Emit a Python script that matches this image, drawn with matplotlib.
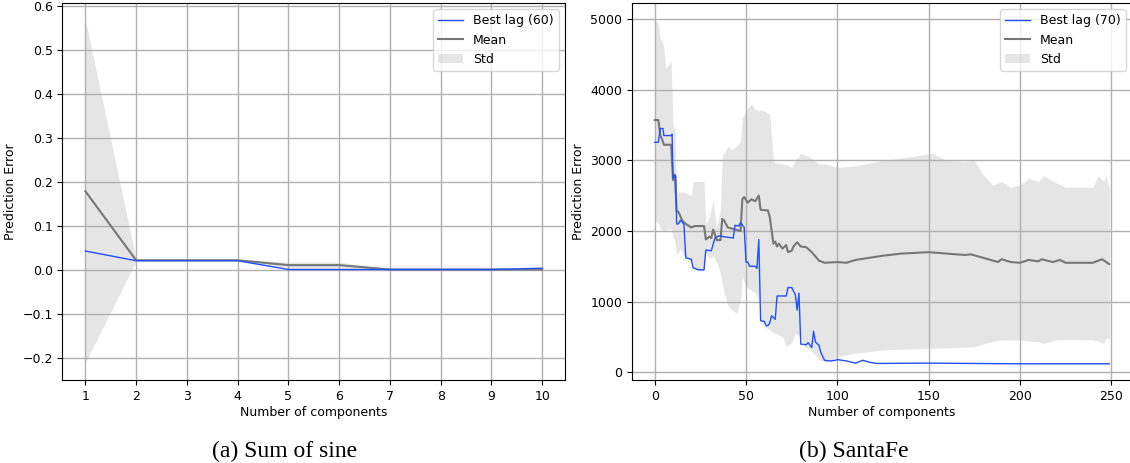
import matplotlib
matplotlib.use('Agg')
import matplotlib.pyplot as plt
from matplotlib.patches import Patch

# ---------------- (a) Sum of sine ----------------
sine_components = [1, 2, 3, 4, 5, 6, 7, 8, 9, 10]
sine_best = [0.044, 0.022, 0.022, 0.022, 0.002, 0.002, 0.002, 0.002, 0.002, 0.005]
sine_mean = [0.180, 0.023, 0.023, 0.023, 0.012, 0.012, 0.002, 0.002, 0.002, 0.002]
sine_std_upper = [0.570, 0.025, 0.025, 0.025, 0.019, 0.019, 0.003, 0.003, 0.003, 0.003]
sine_std_lower = [-0.210, 0.021, 0.021, 0.021, 0.005, 0.005, 0.001, 0.001, 0.001, 0.001]

# ---------------- (b) SantaFe ----------------
santafe_best_x = [0, 2, 3, 4.5, 5, 9, 9.5, 10, 11, 11.5, 12, 13, 14, 16, 17, 20, 21, 24, 27, 28,
                  31, 33, 35, 43, 44, 46, 47, 49, 50, 51, 52, 55, 56, 57, 58, 60, 61, 62, 63, 64,
                  66, 67, 72, 73, 75, 77, 78, 79, 80, 83, 84, 86, 87, 88, 90, 91, 93, 96, 99, 100,
                  105, 110, 114, 118, 122, 150, 200, 249]
santafe_best_y = [3255, 3255, 3450, 3450, 3350, 3350, 3370, 2750, 2780, 2780, 2100, 2100, 2150, 2100, 1620, 1600, 1480, 1450, 1450, 1730,
                  1720, 1900, 1930, 1900, 2080, 2070, 2120, 2050, 1560, 1560, 1500, 1500, 1470, 1880, 730, 720, 660, 660, 700, 800,
                  750, 1080, 1080, 1200, 1200, 1100, 880, 1120, 400, 390, 420, 350, 580, 430, 380, 280, 170, 160, 170, 180,
                  160, 130, 170, 140, 125, 130, 120, 120]

santafe_mean_x = [0, 2, 3, 4, 5, 9, 10, 11, 12, 13, 15, 17, 20, 22, 27, 28, 30, 31, 32, 33,
                  34, 36, 37, 38, 40, 44, 47, 48, 49, 51, 53, 55, 57, 58, 62, 63, 65, 66, 67, 68,
                  70, 72, 73, 75, 76, 78, 80, 83, 86, 88, 90, 93, 100, 105, 110, 115, 125, 135, 150, 160,
                  170, 173, 180, 188, 190, 195, 200, 205, 210, 212, 218, 222, 225, 240, 245, 249]
santafe_mean_y = [3570, 3570, 3360, 3300, 3220, 3220, 2720, 2800, 2280, 2270, 2150, 2100, 2050, 2070, 2070, 1880, 1920, 1900, 2020, 1950,
                  1870, 1870, 2170, 2150, 2050, 2020, 2000, 2450, 2480, 2400, 2450, 2420, 2500, 2300, 2290, 2200, 1820, 1850, 1780, 1820,
                  1750, 1800, 1700, 1720, 1780, 1840, 1780, 1770, 1700, 1640, 1580, 1550, 1560, 1550, 1590, 1610, 1650, 1680, 1700, 1680,
                  1660, 1670, 1620, 1560, 1600, 1560, 1550, 1590, 1570, 1600, 1560, 1590, 1550, 1550, 1600, 1530]

santafe_std_x = [0, 2, 3, 4, 5, 6, 9, 10, 11, 12, 14, 16, 20, 21, 27, 28, 30, 32, 33, 34,
                 36, 37, 38, 40, 42, 45, 47, 48, 50, 53, 55, 57, 58, 60, 63, 65, 66, 70, 72, 75,
                 77, 80, 82, 85, 87, 90, 93, 96, 100, 110, 125, 140, 152, 160, 170, 175, 180, 185, 190, 195,
                 200, 205, 210, 213, 220, 225, 240, 243, 246, 247, 249]
santafe_std_upper = [4980, 4950, 4700, 4700, 4600, 4300, 4400, 3450, 3500, 2550, 2550, 2550, 2500, 2700, 2700, 2100, 2200, 2450, 2200, 2050,
                     2300, 3080, 3100, 3200, 3150, 3200, 3280, 3600, 3700, 3800, 3720, 3700, 3710, 3700, 3650, 3000, 2960, 2950, 2940, 2900,
                     3000, 3100, 3080, 3050, 3000, 2950, 2950, 2930, 2900, 2920, 3000, 3050, 3100, 3000, 2980, 3000, 2800, 2650, 2700, 2620,
                     2650, 2750, 2700, 2780, 2680, 2620, 2620, 2780, 2700, 2800, 2600]
santafe_std_lower = [2150, 2100, 2050, 2000, 2000, 2020, 2030, 1920, 1850, 1650, 1750, 1640, 1600, 1450, 1430, 1700, 1600, 1650, 1600, 1550,
                     1400, 1250, 1120, 950, 880, 840, 1020, 1350, 1210, 1160, 1120, 1030, 740, 650, 600, 560, 550, 500, 360, 420,
                     550, 500, 360, 330, 270, 180, 150, 170, 220, 270, 316, 330, 340, 345, 355, 363, 400, 434, 458, 455,
                     458, 440, 434, 410, 458, 465, 458, 440, 410, 480, 480]

blue = '#1f4fff'
grey = '#777777'

plt.rcParams['font.size'] = 9

fig = plt.figure(figsize=(11.3, 4.63), dpi=100)
ax1 = fig.add_axes([0.0553, 0.1782, 0.4447, 0.8153])
ax2 = fig.add_axes([0.5593, 0.1782, 0.4425, 0.8153])


def draw(ax, bx, by, mx, my, sx, su, sl, best_label):
    ax.fill_between(sx, sl, su, color='grey', alpha=0.2, linewidth=0)
    ax.plot(mx, my, color=grey, linewidth=1.5)
    ax.plot(bx, by, color=blue, linewidth=1.0)
    ax.grid(True, color='#b0b0b0', linewidth=1.0)
    ax.set_xlabel('Number of components', labelpad=2)
    ax.set_ylabel('Prediction Error')
    handles = [plt.Line2D([], [], color=blue, linewidth=1.0),
               plt.Line2D([], [], color=grey, linewidth=1.5),
               Patch(facecolor='grey', alpha=0.2, linewidth=0)]
    ax.legend(handles, [best_label, 'Mean', 'Std'], loc='upper right', fontsize=9)


draw(ax1, sine_components, sine_best, sine_components, sine_mean,
     sine_components, sine_std_upper, sine_std_lower, 'Best lag (60)')
ax1.set_xticks(sine_components)
ax1.set_xlim(0.55, 10.45)
ax1.set_ylim(-0.2502, 0.6076)

draw(ax2, santafe_best_x, santafe_best_y, santafe_mean_x, santafe_mean_y,
     santafe_std_x, santafe_std_upper, santafe_std_lower, 'Best lag (70)')
ax2.set_xticks([0, 50, 100, 150, 200, 250])
ax2.set_xlim(-12.45, 261.45)
ax2.set_ylim(-116, 5226)

fig.text(0.252, 0.013, '(a) Sum of sine', ha='center', va='baseline',
         family='Liberation Serif', fontsize=17)
fig.text(0.7553, 0.013, '(b) SantaFe', ha='center', va='baseline',
         family='Liberation Serif', fontsize=17)

fig.savefig('out.png', dpi=100)
